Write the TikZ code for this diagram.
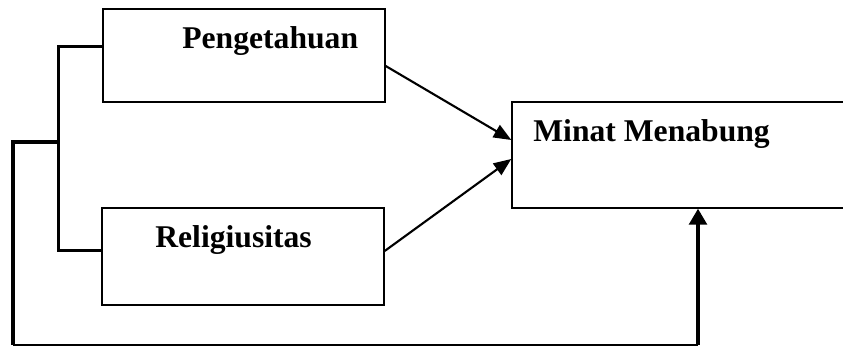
\documentclass[tikz,border=0pt]{standalone}
\usepackage{fontspec}
\setmainfont{Liberation Serif}
\usetikzlibrary{arrows.meta,calc}

\tikzset{
    kotak/.style={draw, line width=0.8pt, rectangle, inner sep=0pt},
    judul/.style={font=\fontsize{18}{22}\selectfont\bfseries, inner sep=0pt, anchor=base west},
    tebal/.style={line width=2pt},
    panah/.style={line width=1.2pt, -{Triangle[length=10pt,width=8pt]}}
}

\begin{document}
\begin{tikzpicture}
        \useasboundingbox (0,0) rectangle (16.86,-6.94);
        \clip (0,0) rectangle (16.86,-6.94);

        % variabel X1, X2 dan Y
        \node[kotak, minimum width=5.64cm, minimum height=1.86cm] (peng) at (4.88,-1.11) {};
        \node[kotak, minimum width=5.64cm, minimum height=1.94cm] (reli) at (4.86,-5.13) {};
        \node[kotak, minimum width=6.76cm, minimum height=2.12cm] (minat) at (13.62,-3.10) {};

        % teks di dalam kotak
        \node[judul] (peng-t) at (3.64,-0.98) {Pengetahuan};
        \node[judul] (reli-t) at (3.10,-4.96) {Religiusitas};
        \node[judul] (minat-t) at (10.66,-2.84) {Minat Menabung};

        % X1 -> Y dan X2 -> Y
        \draw[panah] ([yshift=-0.21cm]peng.east) -- ([yshift=0.30cm]minat.west);
        \draw[panah] ([yshift=0.11cm]reli.east) -- ([yshift=-0.08cm]minat.west);

        % kurung kiri (X1 dan X2 bersama)
        \coordinate (b1) at ([yshift=-0.76cm]peng.north west);
        \coordinate (b2) at ([yshift=-0.86cm]reli.north west);
        \draw[tebal] (b1) -- ++(-0.88,0) coordinate (k1) -- (k1 |- b2) -- (b2);

        % garis bersama ke Y
        \coordinate (k2) at (k1 |- 0,-2.84);
        \coordinate (bk) at (0.26,-6.90);
        \coordinate (bn) at (13.96,-6.90);
        \draw[tebal] (k2) -- (k2 -| bk) -- (bk);
        \draw[line width=0.9pt] (bk) -- (bn);
        \draw[line width=1.9pt, -{Triangle[length=9pt,width=10pt]}] (bn) -- (bn |- minat.south);
    \end{tikzpicture}
\end{document}
